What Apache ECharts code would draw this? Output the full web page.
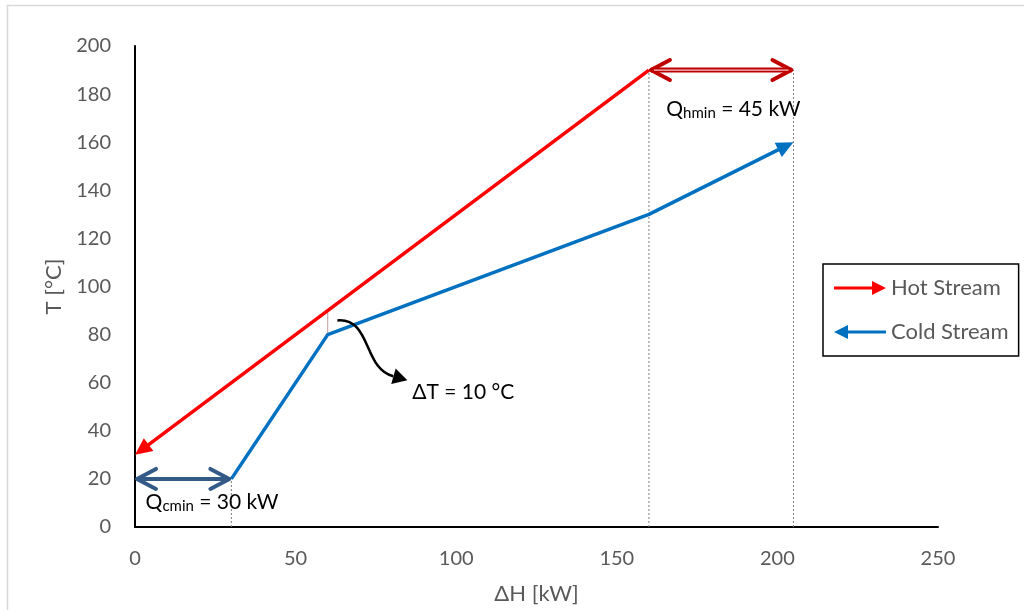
<!DOCTYPE html>
<html>
<head>
<meta charset="utf-8">
<script src="https://cdn.jsdelivr.net/npm/echarts@6/dist/echarts.min.js"></script>
<style>
  html, body { margin: 0; padding: 0; background: #fff; }
  #chart { width: 1024px; height: 610px; }
</style>
</head>
<body>
<div id="chart"></div>
<script>
// Axis ticks
const xTickValues = [0, 50, 100, 150, 200, 250];
const yTickValues = [0, 20, 40, 60, 80, 100, 120, 140, 160, 180, 200];

// Composite curves [ΔH kW, T °C], listed in the direction of flow
const hotStream = [[160, 190], [0, 30]];
const coldStream = [[30, 20], [60, 80], [160, 130], [205, 160]];

// Minimum utilities (double-headed spans)
const qcMinSpan = [[0, 20], [30, 20]];
const qhMinSpan = [[160, 190], [205, 190]];

// Dotted drop lines to the ΔH axis
const dropLines = [
  [[30, 0], [30, 20]],
  [[160, 0], [160, 190]],
  [[205, 0], [205, 190]]
];

// Pinch point gap between the curves
const pinchGap = [[60, 80], [60, 90]];

// Curved pointer to the ΔT label: start, control 1, control 2, end, arrow tip
const pinchPointer = [[63.0, 85.9], [73.6, 87.1], [71.1, 65.6], [80.4, 62.7], [84.8, 61.0]];

// Annotation anchors (left edge, vertical centre)
const qcMinLabelAt = [3.3, 10];
const qhMinLabelAt = [165.4, 173.4];
const deltaTLabelAt = [86.3, 55.9];

const FONT = 'Lato, "Open Sans", sans-serif';
const HOT = '#FF0000';
const COLD = '#0070C0';
const QC = '#335A87';
const QH = '#C00000';

function unit(a, b) {
  const dx = b[0] - a[0], dy = b[1] - a[1];
  const d = Math.hypot(dx, dy) || 1;
  return [dx / d, dy / d];
}

function solidHead(tip, from, len, half) {
  const u = unit(from, tip);
  const bx = tip[0] - u[0] * len, by = tip[1] - u[1] * len;
  return {
    base: [bx, by],
    pts: [tip, [bx - u[1] * half, by + u[0] * half], [bx + u[1] * half, by - u[0] * half]]
  };
}

function openHead(tip, from, len, half, inset) {
  const u = unit(from, tip);
  const tx = tip[0] - u[0] * inset, ty = tip[1] - u[1] * inset;
  const bx = tx - u[0] * len, by = ty - u[1] * len;
  return [[bx - u[1] * half, by + u[0] * half], [tx, ty], [bx + u[1] * half, by - u[0] * half]];
}

function streamRenderer(points, color) {
  return function (params, api) {
    const px = points.map(p => api.coord(p));
    const n = px.length;
    const head = solidHead(px[n - 1], px[n - 2], 17, 8);
    const u = unit(px[n - 2], px[n - 1]);
    const shaft = px.slice(0, n - 1).concat([[head.base[0] + u[0] * 2, head.base[1] + u[1] * 2]]);
    return {
      type: 'group',
      children: [
        { type: 'polyline', shape: { points: shaft }, style: { stroke: color, lineWidth: 3.5, fill: null, lineJoin: 'round' } },
        { type: 'polygon', shape: { points: head.pts }, style: { fill: color } }
      ]
    };
  };
}

function spanRenderer(points, color, inner) {
  return function (params, api) {
    const a = api.coord(points[0]), b = api.coord(points[1]);
    const u = unit(a, b);
    const children = [
      { type: 'line', shape: { x1: a[0] + u[0] * 2, y1: a[1] + u[1] * 2, x2: b[0] - u[0] * 2, y2: b[1] - u[1] * 2 },
        style: { stroke: color, lineWidth: inner ? 5 : 4 } },
      { type: 'polyline', shape: { points: openHead(a, b, 19, 10, 2) },
        style: { stroke: color, lineWidth: 4, fill: null, lineCap: 'round', lineJoin: 'round' } },
      { type: 'polyline', shape: { points: openHead(b, a, 19, 10, 2) },
        style: { stroke: color, lineWidth: 4, fill: null, lineCap: 'round', lineJoin: 'round' } }
    ];
    if (inner) {
      children.push({ type: 'line', shape: { x1: a[0] + u[0] * 5, y1: a[1], x2: b[0] - u[0] * 5, y2: b[1] },
        style: { stroke: inner, lineWidth: 1.2 } });
    }
    return { type: 'group', children };
  };
}

const richSub = {
  m: { fontSize: 21, fontFamily: FONT, color: '#111', lineHeight: 22, verticalAlign: 'top' },
  s: { fontSize: 15, fontFamily: FONT, color: '#111', lineHeight: 10, verticalAlign: 'bottom' }
};

function textEl(api, at, text) {
  const p = api.coord(at);
  return {
    type: 'text', x: p[0], y: p[1],
    style: { text, rich: richSub, align: 'left', verticalAlign: 'middle' }
  };
}

const chart = echarts.init(document.getElementById('chart'));

chart.setOption({
  animation: false,
  backgroundColor: '#fff',
  textStyle: { fontFamily: FONT },
  graphic: [{
    type: 'rect', silent: true, z: -10,
    shape: { x: 7.5, y: 5.5, width: 1100, height: 700 },
    style: { fill: null, stroke: '#D9D9D9', lineWidth: 1.5 }
  }],
  grid: { left: 135, right: 86, top: 46, bottom: 82, containLabel: false },
  xAxis: {
    type: 'value',
    min: xTickValues[0], max: xTickValues[xTickValues.length - 1],
    interval: xTickValues[1] - xTickValues[0],
    axisLine: { show: true, onZero: false, lineStyle: { color: '#000', width: 2 } },
    axisTick: { show: false },
    splitLine: { show: false },
    axisLabel: { fontSize: 20, color: '#595959', margin: 22, fontFamily: FONT },
    name: 'ΔH [kW]', nameLocation: 'middle', nameGap: 56,
    nameTextStyle: { fontSize: 22, color: '#595959', fontFamily: FONT }
  },
  yAxis: {
    type: 'value',
    min: yTickValues[0], max: yTickValues[yTickValues.length - 1],
    interval: yTickValues[1] - yTickValues[0],
    axisLine: { show: true, onZero: false, lineStyle: { color: '#000', width: 2 } },
    axisTick: { show: false },
    splitLine: { show: false },
    axisLabel: { fontSize: 20, color: '#595959', margin: 24, fontFamily: FONT },
    name: 'T [°C]', nameLocation: 'middle', nameGap: 67, nameRotate: 90,
    nameTextStyle: { fontSize: 22, color: '#595959', fontFamily: FONT }
  },
  legend: {
    orient: 'vertical', left: 823, top: 264,
    padding: [12, 10, 12, 11], itemGap: 20,
    itemWidth: 52, itemHeight: 14,
    borderColor: '#000', borderWidth: 1.5,
    textStyle: { fontSize: 22, color: '#595959', fontFamily: FONT, lineHeight: 24 },
    data: [
      { name: 'Hot Stream', icon: 'path://M0,5.5 L38,5.5 L38,0 L52,7 L38,14 L38,8.5 L0,8.5 Z', itemStyle: { color: HOT, borderWidth: 0 } },
      { name: 'Cold Stream', icon: 'path://M52,5.5 L14,5.5 L14,0 L0,7 L14,14 L14,8.5 L52,8.5 Z', itemStyle: { color: COLD, borderWidth: 0 } }
    ]
  },
  series: [
    {
      type: 'custom', silent: true, clip: false, z: 1,
      data: [[0, 0]],
      renderItem: function (params, api) {
        const children = dropLines.map(seg => {
          const a = api.coord(seg[0]), b = api.coord(seg[1]);
          return { type: 'line', shape: { x1: a[0], y1: a[1], x2: b[0], y2: b[1] },
            style: { stroke: '#7F7F7F', lineWidth: 1, lineDash: [2, 2] } };
        });
        const g0 = api.coord(pinchGap[0]), g1 = api.coord(pinchGap[1]);
        children.push({ type: 'line', shape: { x1: g0[0], y1: g0[1], x2: g1[0], y2: g1[1] },
          style: { stroke: '#C49A9A', lineWidth: 1 } });
        return { type: 'group', children };
      }
    },
    {
      name: 'Hot Stream', type: 'custom', clip: false, z: 3,
      itemStyle: { color: HOT },
      data: [[0, 0]],
      renderItem: streamRenderer(hotStream, HOT)
    },
    {
      name: 'Cold Stream', type: 'custom', clip: false, z: 3,
      itemStyle: { color: COLD },
      data: [[0, 0]],
      renderItem: streamRenderer(coldStream, COLD)
    },
    {
      type: 'custom', silent: true, clip: false, z: 4,
      data: [[0, 0]],
      renderItem: spanRenderer(qcMinSpan, QC, null)
    },
    {
      type: 'custom', silent: true, clip: false, z: 4,
      data: [[0, 0]],
      renderItem: spanRenderer(qhMinSpan, QH, '#F3C9C9')
    },
    {
      type: 'custom', silent: true, clip: false, z: 5,
      data: [[0, 0]],
      renderItem: function (params, api) {
        const p = pinchPointer.map(c => api.coord(c));
        const head = solidHead(p[4], p[3], 14.5, 8);
        return {
          type: 'group',
          children: [
            { type: 'bezierCurve',
              shape: { x1: p[0][0], y1: p[0][1], cpx1: p[1][0], cpy1: p[1][1], cpx2: p[2][0], cpy2: p[2][1], x2: p[3][0], y2: p[3][1] },
              style: { stroke: '#000', lineWidth: 2.5, fill: null } },
            { type: 'polygon', shape: { points: head.pts }, style: { fill: '#000' } },
            textEl(api, qcMinLabelAt, '{m|Q}{s|cmin}{m| = 30 kW}'),
            textEl(api, qhMinLabelAt, '{m|Q}{s|hmin}{m| = 45 kW}'),
            textEl(api, deltaTLabelAt, '{m|ΔT = 10 °C}')
          ]
        };
      }
    }
  ]
});
</script>
</body>
</html>
